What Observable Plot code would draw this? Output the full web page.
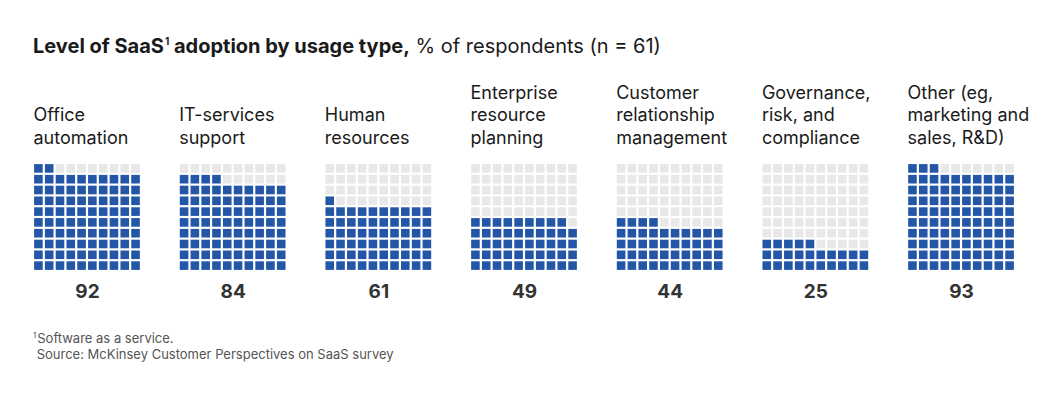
<!DOCTYPE html>
<html>
<head>
<meta charset="utf-8">
<script src="https://cdn.jsdelivr.net/npm/d3@7"></script>
<script src="https://cdn.jsdelivr.net/npm/@observablehq/plot@0.6"></script>
<style>
  html, body { margin: 0; padding: 0; background: #fff; }
  body { width: 1053px; height: 397px; position: relative; overflow: hidden; font-family: Inter, "Liberation Sans", Arial, sans-serif; color: #1a1a1a; }
  #title { position: absolute; left: 33px; top: 34px; font-size: 20px; line-height: 24px; white-space: nowrap; }
  #title b { font-weight: 700; }
  #title .sup { font-size: 10px; position: relative; top: -8px; margin-left: 1px; }
  #chart { position: absolute; left: 0; top: 70px; }
  .note { position: absolute; left: 33px; font-size: 13px; line-height: 16px; color: #555; white-space: pre; }
  #note1 { top: 330px; }
  #note2 { top: 346px; }
  .note .sup { font-size: 8px; position: relative; top: -5px; margin-right: 1px; }
</style>
</head>
<body>
<div id="title"><b>Level of SaaS<span class="sup">1</span> adoption by usage type,</b> % of respondents (n = 61)</div>
<div id="chart"></div>
<div class="note" id="note1"><span class="sup">1</span><span>Software as a service.</span></div>
<div class="note" id="note2"> Source: McKinsey Customer Perspectives on SaaS survey</div>
<script>
const categories = ["office", "it", "hr", "erp", "crm", "grc", "other"];
const labels = [
  "Office\nautomation",
  "IT-services\nsupport",
  "Human\nresources",
  "Enterprise\nresource\nplanning",
  "Customer\nrelationship\nmanagement",
  "Governance,\nrisk, and\ncompliance",
  "Other (eg,\nmarketing and\nsales, R&D)"
];
const values = [92, 84, 61, 49, 44, 25, 93];

const BLUE = "#2356a7";
const GRAY = "#e8e8e9";

const table = categories.map((c, k) => ({category: c, label: labels[k], value: values[k]}));
const cells = [];
for (const t of table) {
  for (let i = 0; i < 100; i++) {
    cells.push({category: t.category, col: i % 10, row: Math.floor(i / 10), filled: i < t.value});
  }
}
const cols = d3.range(10);

const font = "Inter, Liberation Sans, Arial, sans-serif";

const plot = Plot.plot({
  width: 1053,
  height: 240,
  marginLeft: 33,
  marginRight: 38,
  marginTop: 93,
  marginBottom: 39,
  style: {fontFamily: font, background: "transparent"},
  fx: {domain: categories, axis: null, paddingInner: 0.259, paddingOuter: 0, round: false},
  x: {type: "band", domain: cols, axis: null, padding: 0, round: false},
  y: {type: "band", domain: cols.slice().reverse(), axis: null, padding: 0, round: false},
  color: {type: "ordinal", domain: [false, true], range: [GRAY, BLUE]},
  marks: [
    Plot.cell(cells, {fx: "category", x: "col", y: "row", fill: "filled", inset: 1.1}),
    Plot.text(table, {
      fx: "category", text: "label", frameAnchor: "top-left", textAnchor: "start",
      lineAnchor: "bottom", lineHeight: 1.25, dy: -20, fontSize: 18, fill: "#1a1a1a"
    }),
    Plot.text(table, {
      fx: "category", text: d => String(d.value), frameAnchor: "bottom",
      dy: 26, fontSize: 19, fontWeight: "bold", fill: "#333"
    })
  ]
});
document.getElementById("chart").appendChild(plot);
</script>
</body>
</html>
